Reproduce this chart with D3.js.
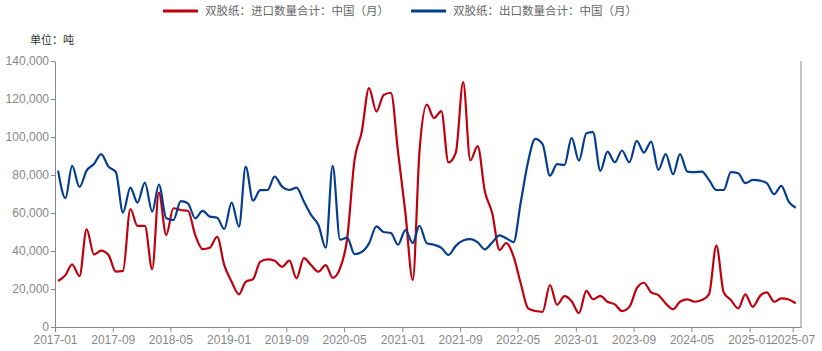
<!DOCTYPE html>
<html>
<head>
<meta charset="utf-8">
<script src="https://cdn.jsdelivr.net/npm/d3@7"></script>
<style>
  body { margin: 0; background: #fff; }
  svg { display: block; font-family: "Noto Sans CJK SC", "Liberation Sans", sans-serif; }
</style>
</head>
<body>
<div id="chart"></div>
<script>
// monthly data, 2017-01 .. 2025-07
const startMonth = "2017-01";
const seriesNames = ["双胶纸：进口数量合计：中国（月）", "双胶纸：出口数量合计：中国（月）"];
const importVals = [
  24200, 27300, 33000, 26800, 51400, 38200, 40200, 37900, 29100, 29500, 62100, 53200,
  53200, 30400, 70700, 48400, 62500, 61600, 61200, 48400, 41000, 41700, 47500, 32600,
  23800, 17200, 23800, 25200, 34300, 35600, 34900, 31700, 34900, 25600, 36200, 32600,
  29100, 32600, 25900, 30900, 46500, 88000, 102500, 125700, 113400, 122000, 123300, 92000,
  60000, 24700, 92000, 117000, 110000, 113600, 86600, 91800, 128900, 87700, 95200, 71500,
  60000, 40500, 44200, 37000, 23000, 9800, 8400, 8000, 22100, 11700, 16200, 13600,
  7300, 19000, 14600, 16400, 13300, 11900, 8400, 10600, 20300, 23300, 18200, 16800,
  12400, 9400, 13300, 14500, 13300, 14200, 17200, 42800, 18200, 14200, 9800, 17200,
  10600, 16400, 18200, 13300, 15100, 14500, 12400
];
const exportVals = [
  82300, 67800, 84800, 73700, 82300, 85800, 91000, 84400, 81500, 60200, 73400, 65500,
  76000, 60700, 75000, 57200, 56300, 66300, 65100, 57200, 61100, 58100, 57500, 51600,
  65500, 52800, 84400, 66500, 72000, 72100, 79200, 73900, 72100, 73400, 66000, 59000,
  53700, 41700, 84800, 46000, 47000, 38400, 39500, 44000, 53000, 50000, 49500, 43300,
  51000, 44200, 53300, 44100, 43300, 41700, 37900, 42700, 45500, 46200, 44500, 40900,
  44500, 48200, 46700, 44700, 65500, 87000, 99000, 96300, 79600, 85700, 85300, 99500,
  87500, 102000, 102600, 82200, 92300, 86700, 92900, 86700, 98000, 91800, 97600, 82700,
  91000, 80400, 91000, 81800, 81500, 81800, 77400, 72100, 72100, 81500, 80900, 75700,
  77400, 77000, 75700, 69900, 74300, 66000, 62800
];
const xTickLabels = ["2017-01", "2017-09", "2018-05", "2019-01", "2019-09", "2020-05", "2021-01",
  "2021-09", "2022-05", "2023-01", "2023-09", "2024-05", "2025-01", "2025-07"];
const yTicks = [0, 20000, 40000, 60000, 80000, 100000, 120000, 140000];
const colors = ["#c1000f", "#053e8e"];

const W = 822, H = 351;
const plotL = 55, plotR = 801, plotT = 61, plotB = 327;

const parse = d3.timeParse("%Y-%m");
const t0 = parse(startMonth);
const dates = importVals.map((_, i) => {
  const d = d3.timeMonth.offset(t0, i);
  return d3.timeDay.offset(d, 13);
});

const x = d3.scaleTime()
  .domain([t0, d3.timeDay.offset(parse("2025-08"), 4)])
  .range([plotL, plotR]);
const y = d3.scaleLinear().domain([0, 140000]).range([plotB, plotT]);

const svg = d3.select("#chart").append("svg")
  .attr("width", W).attr("height", H);

// axes
const gx = svg.append("g")
  .attr("transform", `translate(0,${plotB})`)
  .call(d3.axisBottom(x)
    .tickValues(xTickLabels.map(parse))
    .tickFormat(d3.timeFormat("%Y-%m"))
    .tickSize(5).tickSizeOuter(0).tickPadding(3));
gx.select(".domain").attr("stroke", "#888");
gx.selectAll(".tick line").attr("stroke", "#888");
gx.selectAll("text").attr("fill", "#888").style("font-size", "12px")
  .style("font-family", "'Liberation Sans', Arial, sans-serif");

const gy = svg.append("g")
  .attr("transform", `translate(${plotL},0)`)
  .call(d3.axisLeft(y).tickValues(yTicks).tickFormat(d3.format(",")).tickSize(4).tickSizeOuter(0).tickPadding(2));
gy.select(".domain").attr("stroke", "#888");
gy.selectAll(".tick line").attr("stroke", "#888");
gy.selectAll("text").attr("fill", "#888").style("font-size", "12px")
  .style("font-family", "'Liberation Sans', Arial, sans-serif");

// right frame line
svg.append("line")
  .attr("x1", plotR).attr("x2", plotR)
  .attr("y1", plotT).attr("y2", plotB)
  .attr("stroke", "#888");

// lines
const line = d3.line()
  .x((d, i) => x(dates[i]))
  .y(d => y(d))
  .curve(d3.curveMonotoneX);

[importVals, exportVals].forEach((vals, k) => {
  svg.append("path")
    .datum(vals)
    .attr("fill", "none")
    .attr("stroke", colors[k])
    .attr("stroke-width", 2.2)
    .attr("stroke-linejoin", "round")
    .attr("d", line);
});

// unit label
svg.append("text")
  .attr("x", 30).attr("y", 44)
  .attr("fill", "#333")
  .style("font-size", "11px")
  .text("单位：吨");

// legend
const legendX = [163, 411];
seriesNames.forEach((name, k) => {
  const g = svg.append("g").attr("transform", `translate(${legendX[k]},11)`);
  g.append("line")
    .attr("x1", 0).attr("x2", 35)
    .attr("stroke", colors[k]).attr("stroke-width", 3);
  g.append("text")
    .attr("x", 42).attr("y", 4)
    .attr("fill", "#666")
    .style("font-size", "11.5px")
    .text(name);
});
</script>
</body>
</html>
